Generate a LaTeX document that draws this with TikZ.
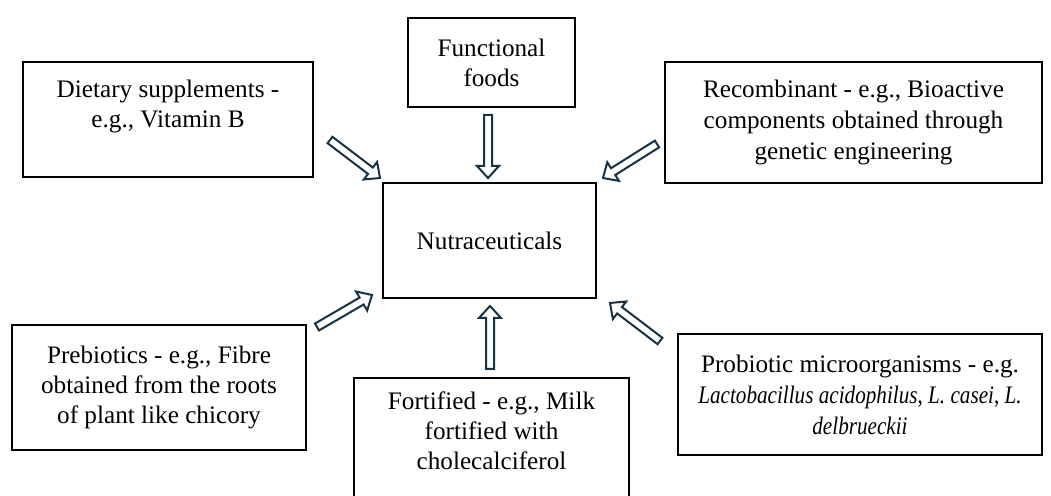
\documentclass[tikz,border=0pt]{standalone}
\usepackage{fontspec}
\setmainfont{Liberation Serif}
\usetikzlibrary{calc}
\definecolor{arrownavy}{RGB}{22,50,68}
\newcommand\blockarrow[2]{%
\coordinate (h) at ($(#2)!6pt!(#1)$);
\draw[arrowline] ($(#1)!2pt!90:(#2)$) -- ($(h)!2pt!90:(#2)$) -- ($(h)!5.5pt!90:(#2)$) -- (#2)
  -- ($(h)!5.5pt!-90:(#2)$) -- ($(h)!2pt!-90:(#2)$) -- ($(#1)!2pt!-90:(#2)$) -- cycle;}

\begin{document}
\begin{tikzpicture}[x=0.5pt,y=-0.5pt,
  box/.style={draw,line width=1.1pt,align=center,inner sep=0pt,font=\fontsize{12.6}{15}\selectfont},
  arrowline/.style={draw=arrownavy,line width=1pt,line join=miter,fill=white}]

\useasboundingbox (0,0) rectangle (1051,496);

\node[box,minimum width=145pt,minimum height=57.5pt,text depth=15.5pt] (diet) at (168,119.5) {Dietary supplements -\\ e.g., Vitamin B};
\node[box,minimum width=83.5pt,minimum height=44.5pt] (func) at (491.5,62.5) {Functional\\ foods};
\node[box,minimum width=188.5pt,minimum height=60.5pt,font=\fontsize{12.6}{15.5}\selectfont] (recomb) at (853.5,122.5) {Recombinant - e.g., Bioactive\\ components obtained through\\ genetic engineering};
\node[box,minimum width=106.5pt,minimum height=57.5pt] (nutra) at (489.5,240.5) {Nutraceuticals};
\node[box,minimum width=147pt,minimum height=62.5pt] (prebio) at (159,387.5) {Prebiotics - e.g., Fibre\\ obtained from the roots\\ of plant like chicory};
\node[box,minimum width=137.5pt,minimum height=63pt,text depth=10pt] (fortif) at (491.5,441) {Fortified - e.g., Milk\\ fortified with\\ cholecalciferol};
\node[box,minimum width=182pt,minimum height=60.5pt,font=\fontsize{12.6}{15.5}\selectfont] (probio) at (860,394.5) {Probiotic microorganisms - e.g.\\ \scalebox{0.84}[1]{\textit{Lactobacillus acidophilus}, \textit{L. casei}, \textit{L.}}\\ \scalebox{0.84}[1]{\textit{delbrueckii}}};

\coordinate (dietT) at (330,140);
\coordinate (dietH) at (380,178);
\coordinate (funcT) at (488,115);
\coordinate (funcH) at (488,178);
\coordinate (recombT) at (657,144);
\coordinate (recombH) at (603,178);
\coordinate (prebioT) at (317,327);
\coordinate (prebioH) at (372,295);
\coordinate (fortifT) at (490,369);
\coordinate (fortifH) at (490,306);
\coordinate (probioT) at (660,341);
\coordinate (probioH) at (610,303);

\blockarrow{dietT}{dietH}
\blockarrow{funcT}{funcH}
\blockarrow{recombT}{recombH}
\blockarrow{prebioT}{prebioH}
\blockarrow{fortifT}{fortifH}
\blockarrow{probioT}{probioH}

\end{tikzpicture}
\end{document}
